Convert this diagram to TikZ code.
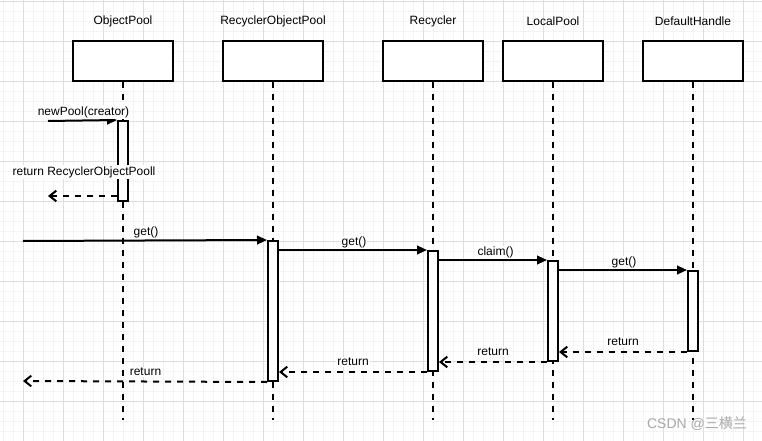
\documentclass[tikz,border=0pt]{standalone}
\usepackage{fontspec}
\setmainfont{Liberation Sans}
\newfontfamily\cjk{Noto Sans CJK SC}
\usetikzlibrary{arrows.meta,fit}
\definecolor{gridmajor}{HTML}{DEDEDE}
\definecolor{gridminor}{HTML}{F3F3F3}
\definecolor{wmark}{HTML}{A8A8A8}
\begin{document}
\begin{tikzpicture}[x=0.75pt,y=-0.75pt,
  font=\fontsize{9pt}{11pt}\selectfont,
  lifebox/.style={draw, line width=1.5pt, fill=white, minimum width=75pt, minimum height=30pt, inner sep=0pt},
  headlabel/.style={inner sep=0pt},
  lifeline/.style={line width=1.5pt, dash pattern=on 4.5pt off 4.5pt},
  actbox/.style={draw, line width=1.5pt, fill=white, inner sep=0pt},
  callmsg/.style={line width=1.5pt, -{Triangle[length=7.5pt,width=6.5pt]}},
  retmsg/.style={line width=1.5pt, dash pattern=on 4.5pt off 4.5pt, -{Straight Barb[length=5pt,width=8pt,line width=1.5pt]}},
  msglabel/.style={inner sep=0.75pt, fill=white}
]
\useasboundingbox (0,0) rectangle (762,441);
% background grid
\fill[white] (0,0) rectangle (762,441);
\foreach \gx in {3,13,...,763} \draw[gridminor, line width=0.75pt] (\gx,0) -- (\gx,441);
\foreach \gy in {1.5,11.5,...,442} \draw[gridminor, line width=0.75pt] (0,\gy) -- (762,\gy);
\foreach \gx in {23,63,...,763} \draw[gridmajor, line width=0.75pt] (\gx,0) -- (\gx,441);
\foreach \gy in {1.5,41.5,...,442} \draw[gridmajor, line width=0.75pt] (0,\gy) -- (762,\gy);

% lifeline heads
\node[headlabel] (lop) at (123,21) {ObjectPool};
\node[headlabel] (lrop) at (273,21) {RecyclerObjectPool};
\node[headlabel] (lrec) at (433,21) {Recycler};
\node[headlabel] (llp) at (553,21) {LocalPool};
\node[headlabel] (ldh) at (693,21) {DefaultHandle};

\node[lifebox] (op) at (123,61) {};
\node[lifebox] (rop) at (273,61) {};
\node[lifebox] (rec) at (433,61) {};
\node[lifebox] (lp) at (553,61) {};
\node[lifebox] (dh) at (693,61) {};

\coordinate (opend) at (123,420);
\coordinate (ropend) at (273,420);
\coordinate (recend) at (433,420);
\coordinate (lpend) at (553,420);
\coordinate (dhend) at (693,420);

\draw[lifeline] (op.south) -- (opend);
\draw[lifeline] (rop.south) -- (ropend);
\draw[lifeline] (rec.south) -- (recend);
\draw[lifeline] (lp.south) -- (lpend);
\draw[lifeline] (dh.south) -- (dhend);

% activations
\node[actbox, fit={(118,121) (128,201)}] (a1) {};
\node[actbox, fit={(268,241) (278,381)}] (a2) {};
\node[actbox, fit={(428,251) (438,371)}] (a3) {};
\node[actbox, fit={(548,261) (558,361)}] (a4) {};
\node[actbox, fit={(688,271) (698,351)}] (a5) {};

% free ends
\coordinate (s1) at (48,121);
\coordinate (r1) at (48,196);
\coordinate (s2) at (23,241);
\coordinate (r2) at (23,381);

% calls
\draw[callmsg] (s1) -- (a1.north west);
\draw[callmsg] (s2) -- (a2.north west);
\draw[callmsg] (a3.north west -| a2.east) -- (a3.north west);
\draw[callmsg] (a4.north west -| a3.east) -- (a4.north west);
\draw[callmsg] (a5.north west -| a4.east) -- (a5.north west);

% returns
\draw[retmsg] (a1.west |- r1) -- (r1);
\draw[retmsg] (a5.south west) -- (a5.south west -| a4.east);
\draw[retmsg] (a4.south west) -- (a4.south west -| a3.east);
\draw[retmsg] (a3.south west) -- (a3.south west -| a2.east);
\draw[retmsg] (a2.south west) -- (r2);

% message labels
\node[msglabel] (m1) at (83.5,112) {newPool(creator)};
\node[msglabel] (m2) at (84,172) {return RecyclerObjectPooll};
\node[msglabel] (m3) at (146,232.5) {get()};
\node[msglabel] (m4) at (354,242.5) {get()};
\node[msglabel] (m5) at (495.5,252.5) {claim()};
\node[msglabel] (m6) at (624,262.5) {get()};
\node[msglabel] (m7) at (623,342) {return};
\node[msglabel] (m8) at (493,352) {return};
\node[msglabel] (m9) at (353,362) {return};
\node[msglabel] (m10) at (145.5,372) {return};

% watermark
\node[inner sep=0pt, text=wmark, font=\fontsize{10.5pt}{12pt}\selectfont] (wm) at (697,423.5) {CSDN @{\cjk 三横兰}};
\end{tikzpicture}
\end{document}
